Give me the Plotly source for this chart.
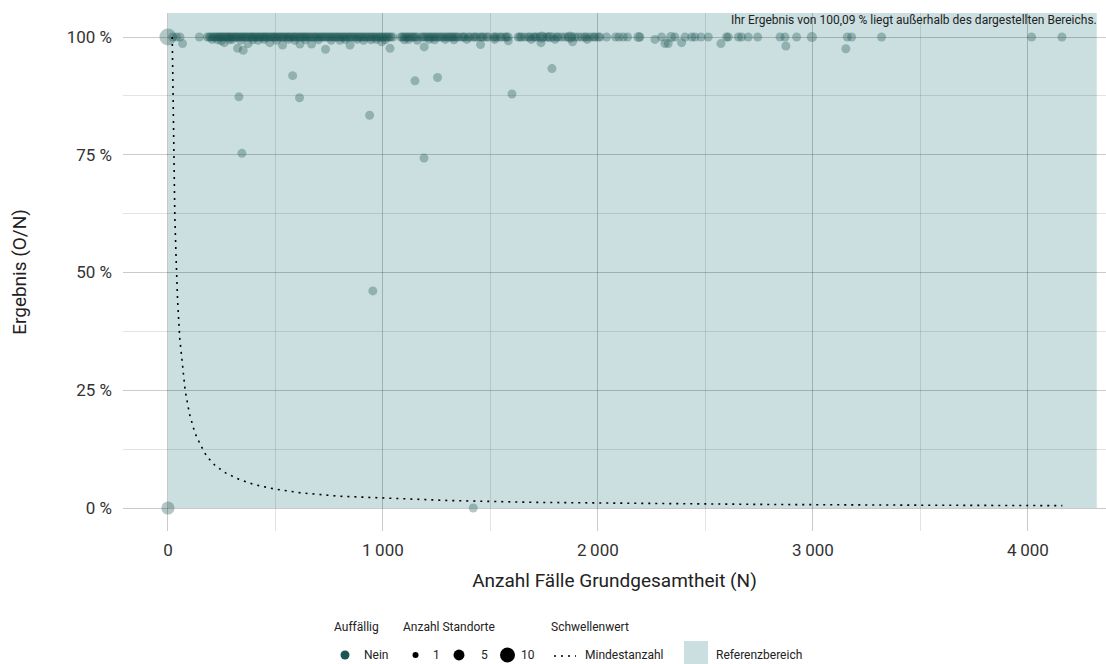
import plotly.graph_objects as go

# ---- data ----
# results at 100 % (one site each)
n_top = [
    22, 40, 56, 146,
    183, 192, 199, 208, 214, 221, 229, 236, 240, 247, 255, 259, 266, 273, 280, 284,
    291, 297, 303, 311, 316, 322, 329, 336, 342, 347, 355, 361, 366, 374, 381, 388,
    392, 399, 405, 412, 418, 426, 431, 438, 446, 450, 457, 463, 470, 478, 483, 491,
    496, 502, 509, 517, 522, 529, 536, 541, 548, 556, 561, 567, 575, 583, 588, 594,
    601, 609, 615, 622, 628, 635, 641, 648, 655,
    662, 670, 677, 684, 690, 698, 705, 713, 719, 726, 734, 741, 748, 756, 762, 770,
    777, 785, 791, 799, 806, 814, 820, 828, 836, 843, 849, 857, 865, 871, 879, 887,
    894, 901, 909, 916, 923, 931, 939, 946, 954, 961, 969, 976, 984, 991, 999, 1006,
    1014, 1021, 1029, 1037, 1046, 1083, 1090, 1098, 1106, 1113, 1121, 1129, 1137,
    1144, 1152, 1160, 1178, 1186, 1194, 1203, 1211, 1219, 1227, 1236, 1244, 1252,
    1261, 1270, 1278, 1287, 1296, 1304,
    1312, 1320, 1327, 1335, 1343, 1352, 1366, 1374, 1381, 1397, 1405, 1420, 1428,
    1436, 1451, 1460, 1467, 1482, 1490, 1513, 1521, 1529, 1545, 1552, 1568, 1575,
    1583, 1629, 1637, 1645, 1660, 1676, 1684, 1699, 1707, 1715, 1730, 1745, 1761,
    1769, 1792, 1808, 1815, 1831, 1847, 1862, 1878, 1893, 1908, 1924, 1939, 1947,
    1963, 1978, 1986,
    2001, 2009, 2040, 2082, 2098, 2118, 2138, 2195, 2296, 2358, 2405, 2436, 2451,
    2479, 2513, 2598, 2606, 2653, 2668,
    2699, 2743, 2847, 2870, 2924, 3160, 3180, 3319, 4017, 4158,
]

# results at 100 % with more than one site
n_top_multi = [0, 1738, 1777, 1870, 2188, 2340, 2995]
sites_top_multi = [10, 3, 2, 3, 2, 2, 2]

# results just below 100 %
n_near = [68, 205, 230, 248, 262, 285, 300, 324, 338, 350, 373, 395, 420, 448, 474,
          505, 533, 560, 590, 614, 640, 668, 700, 733, 760, 800, 825, 847, 880, 910,
          945, 970, 994, 1010, 1033, 1100, 1120, 1160, 1192, 1215, 1240, 1290, 1330,
          1390, 1454, 1520, 1583, 1690, 1735, 1800, 1882, 1950, 2265, 2312, 2327, 2389,
          2572, 2874, 3153]
y_near = [0.986, 0.995, 0.994, 0.992, 0.988, 0.994, 0.995, 0.976, 0.993, 0.972, 0.986,
          0.994, 0.993, 0.995, 0.988, 0.993, 0.983, 0.995, 0.993, 0.985, 0.994, 0.985,
          0.994, 0.974, 0.993, 0.993, 0.995, 0.983, 0.995, 0.993, 0.994, 0.995, 0.990,
          0.994, 0.976, 0.994, 0.995, 0.993, 0.979, 0.995, 0.994, 0.995, 0.994, 0.995,
          0.984, 0.995, 0.992, 0.995, 0.988, 0.995, 0.990, 0.995, 0.995, 0.986, 0.986,
          0.988, 0.986, 0.981, 0.975]

# outliers
n_out = [330, 344, 580, 612, 938, 953, 1149, 1191, 1254, 1600, 1786, 1420, 0]
y_out = [0.873, 0.753, 0.918, 0.871, 0.834, 0.461, 0.907, 0.743, 0.914, 0.879, 0.933, 0.0, 0.0]
sites_out = [1, 1, 1, 1, 1, 1, 1, 1, 1, 1, 1, 1, 5]

# threshold curve (Mindestanzahl)
thr_n = [20, 23, 27, 32, 38, 45, 55, 65, 80, 100, 125, 150, 180, 220, 270, 330, 400,
         500, 620, 800, 1000, 1300, 1700, 2200, 2800, 3500, 4160]
thr_y = [1.0, 0.87, 0.74, 0.62, 0.53, 0.44, 0.36, 0.31, 0.25, 0.20, 0.16, 0.135, 0.11,
         0.09, 0.074, 0.061, 0.05, 0.04, 0.032, 0.025, 0.021, 0.016, 0.012, 0.0095,
         0.0075, 0.006, 0.005]

ref_n_max = 4320
y_ticks = [0, 0.25, 0.5, 0.75, 1.0]
y_ticktext = ["0 %", "25 %", "50 %", "75 %", "100 %"]
x_ticks = [0, 1000, 2000, 3000, 4000]
x_ticktext = ["0", "1\u2009000", "2\u2009000", "3\u2009000", "4\u2009000"]
legend_sizes = [1, 5, 10]

# ---- styling ----
FONT = "Roboto"
DOT = "#1b5652"
DOT_A = "rgba(27,86,82,0.47)"
REF = "#cbdfe0"
GRID = "rgba(0,0,0,0.11)"
W, H = 1106, 664
L, R, T, B = 123, 0, 13, 133
PW, PH = W - L - R, H - T - B
Y_RANGE = [-0.0488, 1.051]
X_RANGE = [-209, 4363]


def dot_size(n):
    return (81 + 208 * (n - 1) / 9) ** 0.5


def legend_dot(n):
    return (36 + 189 * (n - 1) / 9) ** 0.5


def px(x):
    return (x - L) / PW


def py(y):
    return (H - B - y) / PH


fig = go.Figure()

fig.add_shape(type="rect", xref="x", yref="y", x0=0, x1=ref_n_max, y0=0, y1=Y_RANGE[1],
              fillcolor=REF, line_width=0, layer="below")


def dots(x, y, sizes):
    fig.add_trace(go.Scatter(
        x=x, y=y, mode="markers", showlegend=False, hoverinfo="skip",
        marker=dict(color=DOT_A, size=[dot_size(s) for s in sizes], line_width=0),
    ))


dots(n_top, [1.0] * len(n_top), [1] * len(n_top))
dots(n_top_multi, [1.0] * len(n_top_multi), sites_top_multi)
dots(n_near, y_near, [1] * len(n_near))
dots(n_out, y_out, sites_out)

fig.add_trace(go.Scatter(
    x=thr_n, y=thr_y, mode="lines", showlegend=False, hoverinfo="skip",
    line=dict(color="black", width=1.6, dash="2px,5px"),
))

# ---- manual legend ----
title_y, item_y = 627, 655
ann = []
shapes = []


def text(x, y, s, size=12):
    ann.append(dict(x=px(x), y=py(y), xref="paper", yref="paper", text=s, showarrow=False,
                    xanchor="left", yanchor="middle", font=dict(size=size, color="#222")))


def circle(cx, cy, d, color):
    shapes.append(dict(type="circle", xref="paper", yref="paper", xsizemode="pixel",
                       ysizemode="pixel", xanchor=px(cx), yanchor=py(cy),
                       x0=-d / 2, x1=d / 2, y0=-d / 2, y1=d / 2,
                       fillcolor=color, line_width=0))


text(332, title_y, "Auffällig")
text(401, title_y, "Anzahl Standorte")
text(549, title_y, "Schwellenwert")

circle(345, item_y, 9, DOT)
text(362, item_y, "Nein")

for cx, tx, s in zip([415.5, 459, 507.5], [431, 479, 519], legend_sizes):
    circle(cx, item_y, legend_dot(s), "black")
    text(tx, item_y, str(s))

shapes.append(dict(type="line", xref="paper", yref="paper", x0=px(554), x1=px(576),
                   y0=py(item_y + 1), y1=py(item_y + 1),
                   line=dict(color="black", width=1.6, dash="2px,5px")))
text(583, item_y, "Mindestanzahl")

shapes.append(dict(type="rect", xref="paper", yref="paper", x0=px(684), x1=px(708),
                   y0=py(641), y1=py(666), fillcolor=REF, line_width=0))
text(714, item_y, "Referenzbereich")

ann.append(dict(x=px(1099), y=py(20), xref="paper", yref="paper", showarrow=False,
                text="Ihr Ergebnis von 100,09 % liegt außerhalb des dargestellten Bereichs.",
                xanchor="right", yanchor="middle", font=dict(size=12, color="#222")))

for s in shapes:
    fig.add_shape(**s)

fig.update_layout(
    width=W, height=H,
    margin=dict(l=L, r=R, t=T, b=B),
    plot_bgcolor="white", paper_bgcolor="white",
    font=dict(family=FONT, color="#222"),
    showlegend=False,
    annotations=ann,
)

fig.update_xaxes(
    range=X_RANGE, tickvals=x_ticks, ticktext=x_ticktext,
    showgrid=True, gridcolor=GRID, gridwidth=1, zeroline=False, showline=False,
    minor=dict(dtick=500, tick0=0, showgrid=True, gridcolor=GRID, gridwidth=1),
    tickfont=dict(size=17, color="#333"), ticklabelstandoff=7,
    title=dict(text="Anzahl Fälle Grundgesamtheit (N)", font=dict(size=19, color="#222"),
               standoff=14),
)
fig.update_yaxes(
    range=Y_RANGE, tickvals=y_ticks, ticktext=y_ticktext,
    showgrid=True, gridcolor=GRID, gridwidth=1, zeroline=False, showline=False,
    minor=dict(dtick=0.125, tick0=0, showgrid=True, gridcolor=GRID, gridwidth=1),
    tickfont=dict(size=17, color="#333"), ticklabelstandoff=10,
    title=dict(text="Ergebnis (O/N)", font=dict(size=19, color="#222"), standoff=35),
)

fig.write_html(
    "out.html",
    config={"displayModeBar": False},
    post_script="document.body.style.margin='0';document.body.style.overflow='hidden';",
)
